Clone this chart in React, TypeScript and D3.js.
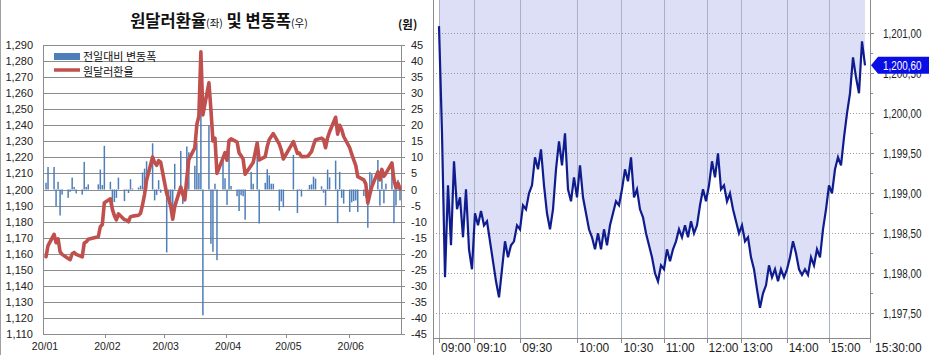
import { useEffect, useRef } from 'react'
import * as d3 from 'd3'

const W = 929
const H = 355

// ---- left chart: daily won/dollar rate and change ----
const DATES = [
  '2020-01-02','2020-01-03','2020-01-06','2020-01-07','2020-01-08','2020-01-09','2020-01-10','2020-01-13','2020-01-14','2020-01-15',
  '2020-01-16','2020-01-17','2020-01-20','2020-01-21','2020-01-22','2020-01-23','2020-01-28','2020-01-29','2020-01-30','2020-01-31',
  '2020-02-03','2020-02-04','2020-02-05','2020-02-06','2020-02-07','2020-02-10','2020-02-11','2020-02-12','2020-02-13','2020-02-14',
  '2020-02-17','2020-02-18','2020-02-19','2020-02-20','2020-02-21','2020-02-24','2020-02-25','2020-02-26','2020-02-27','2020-02-28',
  '2020-03-02','2020-03-03','2020-03-04','2020-03-05','2020-03-06','2020-03-09','2020-03-10','2020-03-11','2020-03-12','2020-03-13',
  '2020-03-16','2020-03-17','2020-03-18','2020-03-19','2020-03-20','2020-03-23','2020-03-24','2020-03-25','2020-03-26','2020-03-27',
  '2020-03-30','2020-03-31',
  '2020-04-01','2020-04-02','2020-04-03','2020-04-06','2020-04-07','2020-04-08','2020-04-09','2020-04-10','2020-04-13','2020-04-14',
  '2020-04-16','2020-04-17','2020-04-20','2020-04-21','2020-04-22','2020-04-23','2020-04-24','2020-04-27','2020-04-28','2020-04-29',
  '2020-05-04','2020-05-06','2020-05-07','2020-05-08','2020-05-11','2020-05-12','2020-05-13','2020-05-14','2020-05-15','2020-05-18',
  '2020-05-19','2020-05-20','2020-05-21','2020-05-22','2020-05-25','2020-05-26','2020-05-27','2020-05-28','2020-05-29',
  '2020-06-01','2020-06-02','2020-06-03','2020-06-04','2020-06-05','2020-06-08','2020-06-09','2020-06-10','2020-06-11','2020-06-12',
  '2020-06-15','2020-06-16','2020-06-17','2020-06-18','2020-06-19','2020-06-22','2020-06-23','2020-06-24','2020-06-25','2020-06-26',
]

const RATE = [
  1158.1,1165.1,1172.1,1166.9,1169.3,1161.2,1159.6,1157.0,1156.3,1160.0,1160.8,1159.6,1158.0,1166.6,1167.4,1169.0,1170.6,1176.8,1178.2,1191.8,
  1194.2,1187.6,1183.7,1181.1,1184.8,1181.2,1181.0,1179.9,1183.1,1183.4,1184.0,1185.2,1190.5,1197.0,1205.8,1220.2,1216.8,1215.1,1218.0,1217.0,
  1197.4,1194.0,1189.6,1181.5,1189.5,1201.5,1197.0,1193.6,1207.0,1218.6,1226.0,1240.6,1245.7,1285.7,1246.5,1266.5,1249.6,1230.2,1232.0,1210.0,
  1219.5,1223.0,
  1218.2,1230.5,1231.6,1229.5,1222.8,1221.0,1218.9,1209.5,1215.0,1216.8,1229.0,1218.4,1220.5,1226.8,1231.2,1233.0,1234.8,1228.2,1224.5,1219.0,
  1229.8,1222.5,1222.7,1220.5,1220.6,1222.0,1223.6,1227.6,1231.0,1232.0,1231.0,1226.0,1232.2,1236.0,1245.0,1234.5,1240.0,1237.4,1233.0,
  1226.0,1222.0,1218.4,1215.0,1208.0,1206.0,1203.5,1191.6,1197.0,1201.8,1211.0,1206.0,1212.5,1208.2,1210.0,1216.5,1206.0,1201.0,1204.0,1200.6,
]

const CHANGE = [
  2.1,7.0,7.0,-5.2,2.4,-8.1,-1.6,-2.6,-0.7,3.7,0.8,-1.2,-1.6,8.6,0.8,1.6,1.6,6.2,1.4,13.6,
  2.4,-6.6,-3.9,-2.6,3.7,-3.6,-0.2,-1.1,3.2,0.3,0.6,1.2,5.3,6.5,8.8,14.4,-3.4,-1.7,2.9,-1.0,
  -19.6,-3.4,-4.4,-8.1,8.0,12.0,-4.5,-3.4,13.4,11.6,7.4,14.6,5.1,40.0,-39.2,20.0,-16.9,-19.4,1.8,-22.0,
  9.5,3.5,
  -4.8,12.3,1.1,-2.1,-6.7,-1.8,-2.1,-9.4,5.5,1.8,12.2,-10.6,2.1,6.3,4.4,1.8,1.8,-6.6,-3.7,-5.5,
  10.8,-7.3,0.2,-2.2,0.1,1.4,1.6,4.0,3.4,1.0,-1.0,-5.0,6.2,3.8,9.0,-10.5,5.5,-2.6,-4.4,
  -7.0,-4.0,-3.6,-3.4,-7.0,-2.0,-2.5,-11.9,5.4,4.8,9.2,-5.0,6.5,-4.3,1.8,6.5,-10.5,-5.0,3.0,-3.4,
]

const RATE_TICKS = [1110,1120,1130,1140,1150,1160,1170,1180,1190,1200,1210,1220,1230,1240,1250,1260,1270,1280,1290]
const CHANGE_TICKS = [-45,-40,-35,-30,-25,-20,-15,-10,-5,0,5,10,15,20,25,30,35,40,45]
const MONTHS = ['2020-01-01','2020-02-01','2020-03-01','2020-04-01','2020-05-01','2020-06-01']
const MONTH_LABELS = ['20/01','20/02','20/03','20/04','20/05','20/06']

// ---- right chart: intraday ticks ----
const INTRADAY = [
  1201.09,1199.75,1197.95,1199.10,1198.35,1199.40,1198.80,1198.95,1198.45,1199.05,
  1198.30,1198.05,1198.75,1198.60,1198.78,1198.60,1198.65,1198.40,1198.15,1197.90,
  1197.70,1198.05,1198.40,1198.20,1198.35,1198.40,1198.60,1198.55,1198.85,1198.80,
  1199.00,1199.10,1199.45,1199.30,1199.55,1199.10,1198.75,1198.55,1198.80,1199.30,
  1199.65,1199.35,1199.75,1199.05,1198.90,1199.20,1198.95,1199.35,1198.95,1198.75,
  1198.55,1198.45,1198.30,1198.50,1198.30,1198.55,1198.35,1198.60,1198.75,1198.90,
  1198.85,1199.05,1199.30,1199.15,1199.45,1198.95,1199.05,1198.80,1198.70,1198.50,
  1198.35,1198.20,1198.00,1197.90,1198.10,1198.05,1198.30,1198.15,1198.30,1198.40,
  1198.55,1198.45,1198.60,1198.45,1198.65,1198.50,1198.60,1198.85,1199.05,1198.90,
  1199.10,1199.40,1199.20,1199.50,1199.05,1199.10,1198.90,1199.00,1198.80,1198.65,
  1198.50,1198.60,1198.40,1198.45,1198.20,1198.05,1197.80,1197.57,1197.75,1197.85,
  1198.10,1197.95,1198.05,1197.90,1198.05,1197.95,1198.05,1198.20,1198.40,1198.25,
  1198.05,1197.98,1198.05,1197.98,1198.20,1198.10,1198.30,1198.20,1198.55,1198.80,
  1199.10,1199.00,1199.30,1199.45,1199.35,1199.70,1200.00,1200.25,1200.70,1200.45,
  1200.25,1200.90,1200.60,
]
const TIME_LABELS = ['09:00','09:10','09:30','10:00','10:30','11:00','12:00','13:00','14:00','15:00','15:30:00']
// tick index in INTRADAY where each time label falls
const TIME_INDEX = [0, 11.8, 27.1, 46.1, 60.8, 74.9, 89.2, 100.6, 115.9, 129.9, 143.7]
const PRICE_TICKS = [1197.5, 1198.0, 1198.5, 1199.0, 1199.5, 1200.0, 1200.5, 1201.0]
const PRICE_MINOR = [1197.75, 1198.25, 1198.75, 1199.25, 1199.75, 1200.25, 1200.75]
const LAST_PRICE = 1200.6

const NUM = "'Liberation Sans', Arial, sans-serif"
const KR = "'Noto Sans CJK KR', 'Noto Sans', sans-serif"

const fmtPrice = (v: number) => d3.format(',.2f')(v).replace('.', ',')

export default function App() {
  const ref = useRef<SVGSVGElement>(null)

  useEffect(() => {
    const svg = d3.select(ref.current)
    svg.selectAll('*').remove()
    svg.append('rect').attr('width', W).attr('height', H).attr('fill', '#fff')

    // ================= left chart =================
    const L = { l: 43, r: 401, t: 45, b: 334 }
    const parse = d3.timeParse('%Y-%m-%d')
    const dates = DATES.map(d => d3.timeHour.offset(parse(d)!, 12))
    const x = d3.scaleTime().domain([parse('2020-01-01')!, parse('2020-06-27')!]).range([L.l, L.r])
    const yL = d3.scaleLinear().domain([1110, 1290]).range([L.b, L.t])
    const yR = d3.scaleLinear().domain([-45, 45]).range([L.b, L.t])

    svg.append('line').attr('x1', 0.5).attr('x2', 0.5).attr('y1', 0).attr('y2', H).attr('stroke', '#a0a0a0')

    const left = svg.append('g')
    left.selectAll('.grid').data(RATE_TICKS).join('line')
      .attr('x1', L.l).attr('x2', L.r)
      .attr('y1', d => Math.round(yL(d)) + 0.5).attr('y2', d => Math.round(yL(d)) + 0.5)
      .attr('stroke', '#8c8c8c').attr('stroke-width', 1)

    left.selectAll('.ylab').data(RATE_TICKS).join('text')
      .attr('x', 33).attr('y', d => yL(d) + 4)
      .attr('text-anchor', 'end').attr('font-size', 11).attr('font-family', NUM).attr('fill', '#222')
      .text(d => d3.format(',')(d))

    left.selectAll('.rlab').data(CHANGE_TICKS).join('text')
      .attr('x', 411).attr('y', d => yR(d) + 4)
      .attr('font-size', 11).attr('font-family', NUM).attr('fill', '#222')
      .text(d => String(d))

    left.selectAll('.rtick').data(CHANGE_TICKS).join('line')
      .attr('x1', L.r).attr('x2', L.r + 4)
      .attr('y1', d => Math.round(yR(d)) + 0.5).attr('y2', d => Math.round(yR(d)) + 0.5)
      .attr('stroke', '#8c8c8c')

    // axes frame
    left.append('line').attr('x1', L.l + 0.5).attr('x2', L.l + 0.5).attr('y1', L.t).attr('y2', L.b).attr('stroke', '#8c8c8c')
    left.append('line').attr('x1', L.r + 0.5).attr('x2', L.r + 0.5).attr('y1', L.t).attr('y2', L.b + 0.5).attr('stroke', '#8c8c8c')

    // bars
    left.selectAll('.bar').data(CHANGE).join('rect')
      .attr('x', (d, i) => x(dates[i]) - 0.75)
      .attr('width', 1.5)
      .attr('y', d => Math.min(yR(d), yR(0)))
      .attr('height', d => Math.abs(yR(d) - yR(0)))
      .attr('fill', '#4f7fba')

    // rate line
    const line = d3.line<number>().x((d, i) => x(dates[i])).y(d => yL(d))
    left.append('path').datum(RATE).attr('d', line)
      .attr('fill', 'none').attr('stroke', '#c0504d').attr('stroke-width', 3.6)
      .attr('stroke-linejoin', 'round').attr('stroke-linecap', 'round')

    // x axis ticks / labels
    const months = MONTHS.map(m => parse(m)!)
    left.selectAll('.xt').data(months.slice(1)).join('line')
      .attr('x1', d => Math.round(x(d)) + 0.5).attr('x2', d => Math.round(x(d)) + 0.5)
      .attr('y1', L.b).attr('y2', L.b + 4).attr('stroke', '#8c8c8c')
    left.selectAll('.xl').data(months).join('text')
      .attr('x', d => x(d) + 2).attr('y', 350)
      .attr('text-anchor', 'middle').attr('font-size', 10.5).attr('font-family', NUM).attr('fill', '#222')
      .text((d, i) => MONTH_LABELS[i])

    // title
    const title = left.append('text').attr('x', 219).attr('y', 27).attr('text-anchor', 'middle')
      .attr('font-family', KR).attr('fill', '#111').attr('font-weight', 700)
    title.append('tspan').attr('font-size', 16.5).text('원달러환율')
    title.append('tspan').attr('font-size', 10.5).attr('font-weight', 400).text('(좌)')
    title.append('tspan').attr('font-size', 16.5).text(' 및 변동폭')
    title.append('tspan').attr('font-size', 10.5).attr('font-weight', 400).text('(우)')
    left.append('text').attr('x', 398).attr('y', 29).attr('font-size', 11.5).attr('font-weight', 700)
      .attr('font-family', KR).attr('fill', '#111').text('(원)')

    // legend
    left.append('rect').attr('x', 54).attr('y', 53).attr('width', 26).attr('height', 7).attr('fill', '#4f7fba')
    left.append('text').attr('x', 83).attr('y', 61).attr('font-size', 11).attr('font-family', KR).attr('fill', '#111').text('전일대비 변동폭')
    left.append('line').attr('x1', 54).attr('x2', 80).attr('y1', 70).attr('y2', 70).attr('stroke', '#c0504d').attr('stroke-width', 3.5)
    left.append('text').attr('x', 83).attr('y', 75.5).attr('font-size', 11).attr('font-family', KR).attr('fill', '#111').text('원달러환율')

    // ================= right chart =================
    const R = { l: 439, r: 865, t: 0, b: 338, axis: 870, frame: 433 }
    const xi = d3.scaleLinear().domain([0, INTRADAY.length - 1]).range([R.l, R.r])
    const yp = d3.scaleLinear().domain([1197.5, 1201]).range([313.3, 33.3])

    const right = svg.append('g')
    const area = d3.area<number>().x((d, i) => xi(i)).y0(R.t).y1(d => yp(d))
    right.append('path').datum(INTRADAY).attr('d', area).attr('fill', '#dcdff6')

    right.selectAll('.vg').data(TIME_INDEX.slice(0, -1)).join('line')
      .attr('x1', d => Math.round(xi(d)) + 0.5).attr('x2', d => Math.round(xi(d)) + 0.5)
      .attr('y1', R.t).attr('y2', R.b).attr('stroke', '#aab0c8')

    right.selectAll('.hg').data(PRICE_TICKS).join('line')
      .attr('x1', R.frame).attr('x2', R.axis)
      .attr('y1', d => Math.round(yp(d)) + 0.5).attr('y2', d => Math.round(yp(d)) + 0.5)
      .attr('stroke', '#9a9a9a').attr('stroke-dasharray', '1,2')

    const pline = d3.line<number>().x((d, i) => xi(i)).y(d => yp(d))
    right.append('path').datum(INTRADAY).attr('d', pline)
      .attr('fill', 'none').attr('stroke', '#0f1c8e').attr('stroke-width', 2.2)
      .attr('stroke-linejoin', 'miter')

    // frame
    right.append('rect').attr('x', R.axis + 1).attr('y', 0).attr('width', W - R.axis).attr('height', H).attr('fill', '#fff')
    right.append('line').attr('x1', R.frame + 0.5).attr('x2', R.frame + 0.5).attr('y1', 0).attr('y2', H).attr('stroke', '#8a8a8a')
    right.append('line').attr('x1', R.axis + 0.5).attr('x2', R.axis + 0.5).attr('y1', 0).attr('y2', R.b).attr('stroke', '#8a8a8a')
    right.append('line').attr('x1', R.frame).attr('x2', R.axis + 1).attr('y1', R.b + 0.5).attr('y2', R.b + 0.5).attr('stroke', '#8a8a8a')

    right.selectAll('.xt').data(TIME_INDEX).join('line')
      .attr('x1', d => Math.round(xi(d)) + 0.5).attr('x2', d => Math.round(xi(d)) + 0.5)
      .attr('y1', R.b).attr('y2', R.b + 5).attr('stroke', '#8a8a8a')
    right.selectAll('.xl').data(TIME_INDEX).join('text')
      .attr('transform', (d, i) => `translate(${xi(d) + (i === TIME_INDEX.length - 1 ? 5 : 2)},352) scale(0.92,1)`)
      .attr('font-size', 13).attr('font-family', NUM).attr('fill', '#222')
      .text((d, i) => TIME_LABELS[i])

    right.selectAll('.yt').data(PRICE_TICKS).join('line')
      .attr('x1', R.axis).attr('x2', R.axis + 4)
      .attr('y1', d => Math.round(yp(d)) + 0.5).attr('y2', d => Math.round(yp(d)) + 0.5)
      .attr('stroke', '#8a8a8a')
    right.selectAll('.ym').data(PRICE_MINOR).join('line')
      .attr('x1', R.axis).attr('x2', R.axis + 3)
      .attr('y1', d => Math.round(yp(d)) + 0.5).attr('y2', d => Math.round(yp(d)) + 0.5)
      .attr('stroke', '#8a8a8a')
    right.selectAll('.yl').data(PRICE_TICKS).join('text')
      .attr('transform', d => `translate(883,${yp(d) + 5}) scale(0.76,1)`)
      .attr('font-size', 13).attr('font-family', NUM).attr('fill', '#222')
      .text(d => fmtPrice(d))

    // last price tag
    const ty = yp(LAST_PRICE)
    right.append('path')
      .attr('d', `M${R.axis + 1},${ty} L${R.axis + 8},${ty - 8.5} L${W},${ty - 8.5} L${W},${ty + 8.5} L${R.axis + 8},${ty + 8.5} Z`)
      .attr('fill', '#0a0ee6')
    right.append('text')
      .attr('transform', `translate(883,${ty + 5}) scale(0.76,1)`)
      .attr('font-size', 13).attr('font-family', NUM).attr('fill', '#fff')
      .text(fmtPrice(LAST_PRICE))
  }, [])

  return <svg ref={ref} width={W} height={H} style={{ position: 'absolute', left: 0, top: 0, display: 'block' }} />
}
